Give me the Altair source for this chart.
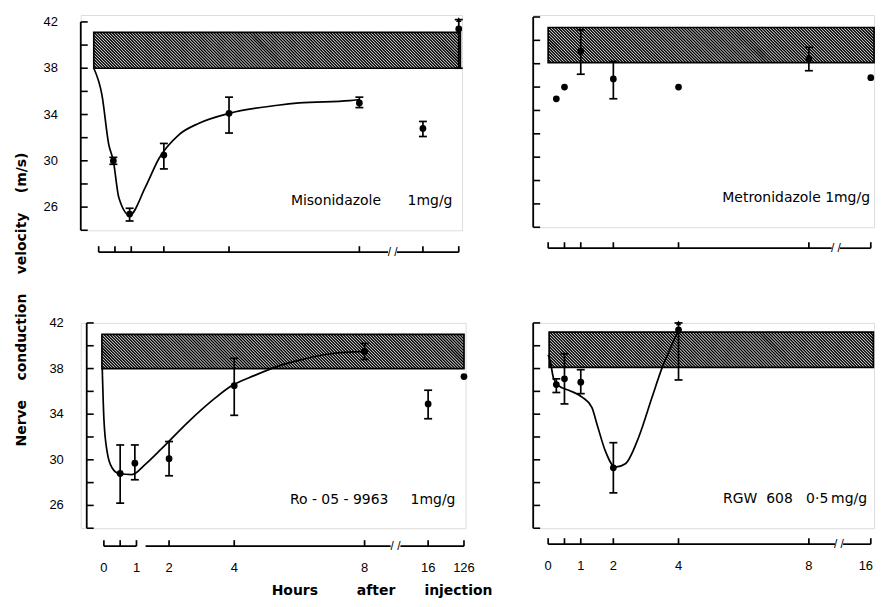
import altair as alt
import pandas as pd

FONT_TICK = "Liberation Sans"
FONT_TEXT = "DejaVu Sans"
SX = 32.7  # pixels per hour on the linear part of the axis

# position of the hours beyond the axis break
BROKEN_LEFT = {16: 9.95, 126: 11.05}
BROKEN_RIGHT = {16: 9.9}

Y_TICKS = list(range(24, 43, 2))
Y_LABELS = [26, 30, 34, 38, 42]

# ---------------- Misonidazole 1mg/g (top left) ----------------
MIS_H = [0.45, 0.95, 2, 4, 8, 16, 126]
MIS_V = [30.0, 25.4, 30.5, 34.1, 35.0, 32.8, 41.4]
MIS_LO = [29.7, 24.8, 29.3, 32.4, 34.6, 32.1, 38.0]
MIS_HI = [30.3, 25.9, 31.5, 35.5, 35.5, 33.4, 42.2]
MIS_ARROW = [False, False, False, False, False, False, True]
MIS_CURVE_H = [-0.15, 0.1, 0.31, 0.45, 0.62, 0.95, 1.43, 1.85, 2.46, 3.08, 4.0, 5.5, 6.15, 7.7, 8.0]
MIS_CURVE_V = [38.0, 35.7, 31.4, 30.0, 26.8, 25.3, 27.7, 30.2, 32.25, 33.25, 34.1, 34.8, 35.0, 35.2, 35.3]

# ---------------- Metronidazole 1mg/g (top right) ----------------
MET_H = [0.25, 0.5, 1, 2, 4, 8, 16]
MET_V = [35.0, 36.0, 39.1, 36.7, 36.0, 38.4, 36.8]
MET_LO = [None, None, 37.1, 35.0, None, 37.4, None]
MET_HI = [None, None, 40.9, 38.2, None, 39.4, None]
MET_ARROW = [False] * 7

# ---------------- Ro-05-9963 1mg/g (bottom left) ----------------
RO_H = [0.5, 0.95, 2, 4, 8, 16, 126]
RO_V = [28.8, 29.7, 30.1, 36.5, 39.5, 34.9, 37.3]
RO_LO = [26.2, 28.25, 28.6, 33.9, 38.8, 33.6, None]
RO_HI = [31.3, 31.3, 31.6, 38.9, 40.2, 36.1, None]
RO_ARROW = [False] * 7
RO_CURVE_H = [-0.05, 0.0, 0.1, 0.25, 0.46, 0.86, 1.27, 1.78, 2.6, 3.41, 3.87, 4.63, 5.44, 5.95, 6.97, 8.0]
RO_CURVE_V = [38.0, 33.6, 30.7, 29.3, 28.8, 28.7, 29.6, 31.0, 33.35, 35.4, 36.4, 37.4, 38.3, 38.7, 39.3, 39.5]

# ---------------- RGW 608 0.5mg/g (bottom right) ----------------
RGW_H = [0.25, 0.5, 1, 2, 4]
RGW_V = [36.6, 37.1, 36.8, 29.3, 41.4]
RGW_LO = [35.9, 34.9, 35.8, 27.1, 37.0]
RGW_HI = [37.1, 39.3, 37.9, 31.5, 42.0]
RGW_ARROW = [False, False, False, False, True]
RGW_CURVE_H = [0.0, 0.06, 0.16, 0.32, 0.63, 1.04, 1.34, 1.5, 1.75, 2.06, 2.37, 2.78, 3.19, 3.5, 3.8, 4.0]
RGW_CURVE_V = [39.2, 38.7, 37.2, 36.5, 36.1, 35.5, 34.6, 33.1, 30.8, 29.35, 29.65, 32.0, 35.5, 38.1, 40.1, 41.4]

# axis ticks (hours)
LEFT_TICKS = [0, 0.5, 1, 2, 4, 8, 16, 126]
RIGHT_TICKS = [0, 0.5, 1, 2, 4, 8, 16]
LEFT_LABELS = [0, 1, 2, 4, 8, 16, 126]
RIGHT_LABELS = [0, 1, 2, 4, 8, 16]

NB = "\u00a0"


def panel(p):
    broken = p["broken"]

    def hpos(h):
        return broken.get(h, h)

    xs = alt.Scale(domain=list(p["xdom"]), nice=False, zero=False)
    ytop = p["ytop"]
    ys = alt.Scale(domain=[24, ytop], nice=False, zero=False)
    W = (p["xdom"][1] - p["xdom"][0]) * SX
    H = p["height"]
    sy = H / (ytop - 24.0)
    sp = p["spine"]

    def X(f):
        return alt.X(f, scale=xs, axis=None)

    def Y(f):
        return alt.Y(f, scale=ys, axis=None)

    layers = []

    # hatched normal range band
    bx0, bx1, by0, by1 = p["band"]
    S = (by1 - by0) * sy / SX
    k = (by1 - by0) / S
    step = 3.0 / SX
    hatch = (
        alt.Chart(alt.sequence(bx0 - S, bx1, step, as_="t"))
        .transform_calculate(
            xa=f"max(datum.t, {bx0})",
            ya=f"{by1} - (max(datum.t, {bx0}) - datum.t) * {k}",
            xb=f"min(datum.t + {S}, {bx1})",
            yb=f"{by0} + (datum.t + {S} - min(datum.t + {S}, {bx1})) * {k}",
        )
        .mark_rule(color="black", strokeWidth=1.45)
        .encode(x=X("xa:Q"), y=Y("ya:Q"), x2="xb:Q", y2="yb:Q")
    )
    layers.append(hatch)
    band_df = pd.DataFrame({"x": [bx0], "x2": [bx1], "y": [by0], "y2": [by1]})
    layers.append(
        alt.Chart(band_df)
        .mark_rect(fillOpacity=0, stroke="black", strokeWidth=1.7)
        .encode(x=X("x:Q"), x2="x2:Q", y=Y("y:Q"), y2="y2:Q")
    )

    # smooth curve
    if p.get("curve_h"):
        cdf = pd.DataFrame({"h": p["curve_h"], "v": p["curve_v"]})
        layers.append(
            alt.Chart(cdf)
            .mark_line(color="black", strokeWidth=1.7, interpolate="monotone")
            .encode(x=X("h:Q"), y=Y("v:Q"))
        )

    pts = pd.DataFrame(
        {
            "h": p["hours"],
            "v": p["values"],
            "lo": p["lo"],
            "hi": p["hi"],
            "arrow": p["arrow"],
        }
    )
    pts["pos"] = [hpos(h) for h in pts["h"]]
    err = pts.dropna(subset=["lo", "hi"])
    layers.append(
        alt.Chart(err)
        .mark_rule(color="black", strokeWidth=1.7)
        .encode(x=X("pos:Q"), y=Y("lo:Q"), y2="hi:Q")
    )
    caps = pd.concat(
        [
            pd.DataFrame({"pos": err["pos"], "c": err["lo"]}),
            pd.DataFrame({"pos": err["pos"], "c": err["hi"]}),
        ]
    )
    layers.append(
        alt.Chart(caps)
        .mark_tick(orient="horizontal", color="black", size=8, thickness=1.7, opacity=1)
        .encode(x=X("pos:Q"), y=Y("c:Q"))
    )
    arrows = pts[pts["arrow"]]
    if len(arrows):
        layers.append(
            alt.Chart(arrows)
            .mark_point(shape="triangle-up", filled=True, size=30, color="black", opacity=1)
            .encode(x=X("pos:Q"), y=Y("hi:Q"))
        )

    layers.append(
        alt.Chart(pts)
        .mark_circle(size=46, color="black", opacity=1)
        .encode(x=X("pos:Q"), y=Y("v:Q"))
    )

    # y axis: spine, inward ticks, labels
    layers.append(
        alt.Chart(pd.DataFrame({"a": [24], "b": [42]}))
        .mark_rule(color="black", strokeWidth=1.8)
        .encode(x=alt.value(sp), y=Y("a:Q"), y2="b:Q")
    )
    layers.append(
        alt.Chart(pd.DataFrame({"y": Y_TICKS}))
        .mark_rule(color="black", strokeWidth=1.6)
        .encode(y=Y("y:Q"), x=alt.value(sp), x2=alt.value(sp + 7))
    )
    if p["ylabels"]:
        layers.append(
            alt.Chart(pd.DataFrame({"y": Y_LABELS, "lab": [str(v) for v in Y_LABELS]}))
            .mark_text(font=FONT_TICK, fontSize=13, color="black", align="right", baseline="middle")
            .encode(y=Y("y:Q"), x=alt.value(sp - 23), text="lab:N")
        )

    # detached, broken x axis
    ay = H + p["axis_dy"]
    seg = pd.DataFrame(p["segs"], columns=["a", "b"])
    layers.append(
        alt.Chart(seg)
        .mark_rule(color="black", strokeWidth=1.7)
        .encode(x=X("a:Q"), x2="b:Q", y=alt.value(ay))
    )
    tdf = pd.DataFrame({"p": [hpos(h) for h in p["ticks"]]})
    layers.append(
        alt.Chart(tdf)
        .mark_rule(color="black", strokeWidth=1.7)
        .encode(x=X("p:Q"), y=alt.value(ay), y2=alt.value(ay - 6))
    )
    bdf = pd.DataFrame({"p": p["breaks"]})
    layers.append(
        alt.Chart(bdf)
        .mark_text(text="/" + NB + "/", font=FONT_TICK, fontSize=12, color="black", baseline="middle")
        .encode(x=X("p:Q"), y=alt.value(ay))
    )
    labs = list(p["labels"])
    if labs:
        edge = labs[-1] if p.get("edge_label") else None
        inner = [h for h in labs if h != edge]
        ldf = pd.DataFrame({"p": [hpos(h) for h in inner], "lab": [str(h) for h in inner]})
        layers.append(
            alt.Chart(ldf)
            .mark_text(font=FONT_TICK, fontSize=13, color="black", baseline="middle")
            .encode(x=X("p:Q"), y=alt.value(H + p["label_dy"]), text="lab:N")
        )
        if edge is not None:
            # last label sits against the page edge
            layers.append(
                alt.Chart(pd.DataFrame({"lab": [str(edge)]}))
                .mark_text(font=FONT_TICK, fontSize=13, color="black", baseline="middle", align="right")
                .encode(x=alt.value(W - 1), y=alt.value(H + p["label_dy"]), text="lab:N")
            )

    # drug annotation
    layers.append(
        alt.Chart(pd.DataFrame({"t": [p["note"]]}))
        .mark_text(font=FONT_TEXT, fontSize=14, color="black", align="right", baseline="middle")
        .encode(x=alt.value(p["note_x"]), y=alt.value(p["note_y"]), text="t:N")
    )

    return alt.layer(*layers).properties(width=W, height=H)


TL = panel(
    dict(
        hours=MIS_H, values=MIS_V, lo=MIS_LO, hi=MIS_HI, arrow=MIS_ARROW,
        curve_h=MIS_CURVE_H, curve_v=MIS_CURVE_V, broken=BROKEN_LEFT,
        band=(-0.15, 11.1, 38.0, 41.1),
        segs=[(0, 8.88), (9.15, 11.05)], breaks=[9.02],
        ticks=LEFT_TICKS, labels=[],
        xdom=(-0.55, 11.15), ytop=42.6, height=216, spine=0, axis_dy=22, label_dy=40,
        ylabels=True,
        note="Misonidazole" + NB * 6 + "1mg/g", note_x=373, note_y=187,
    )
)
TR = panel(
    dict(
        hours=MET_H, values=MET_V, lo=MET_LO, hi=MET_HI, arrow=MET_ARROW,
        curve_h=None, curve_v=None, broken=BROKEN_RIGHT,
        band=(0.0, 10.0, 38.1, 41.1),
        segs=[(0, 8.7), (8.95, 9.9)], breaks=[8.83],
        ticks=RIGHT_TICKS, labels=[],
        xdom=(-0.46, 10.0), ytop=42.17, height=213, spine=0, axis_dy=21, label_dy=40,
        ylabels=False,
        note="Metronidazole" + NB + "1mg/g", note_x=338, note_y=184,
    )
)
BL = panel(
    dict(
        hours=RO_H, values=RO_V, lo=RO_LO, hi=RO_HI, arrow=RO_ARROW,
        curve_h=RO_CURVE_H, curve_v=RO_CURVE_V, broken=BROKEN_LEFT,
        band=(-0.06, 11.05, 38.0, 41.0),
        segs=[(0, 1.0), (1.28, 8.8), (9.1, 11.05)], breaks=[8.95],
        ticks=LEFT_TICKS, labels=LEFT_LABELS,
        xdom=(-0.71, 11.1), ytop=42.0, height=206, spine=6, axis_dy=18, label_dy=40,
        ylabels=True,
        note="Ro" + NB + "-" + NB + "05" + NB + "-" + NB + "9963" + NB * 5 + "1mg/g",
        note_x=376, note_y=178,
    )
)
BR = panel(
    dict(
        hours=RGW_H, values=RGW_V, lo=RGW_LO, hi=RGW_HI, arrow=RGW_ARROW,
        curve_h=RGW_CURVE_H, curve_v=RGW_CURVE_V, broken=BROKEN_RIGHT,
        band=(0.03, 9.98, 38.1, 41.2),
        segs=[(0, 8.8), (9.05, 9.9)], breaks=[8.92],
        ticks=RIGHT_TICKS, labels=RIGHT_LABELS, edge_label=True,
        xdom=(-0.46, 10.0), ytop=42.0, height=206, spine=0, axis_dy=16, label_dy=38,
        ylabels=False,
        note="RGW" + NB * 2 + "608" + NB * 3 + "0\u00b75\u2009mg/g", note_x=335, note_y=177,
    )
)

row1 = alt.hconcat(TL, TR, spacing=68)
row2 = alt.hconcat(BL, BR, spacing=56).properties(
    title=alt.TitleParams(
        text="Hours" + NB * 8 + "after" + NB * 6 + "injection",
        orient="bottom",
        anchor="middle",
        dx=-80,
        offset=9,
        font=FONT_TEXT,
        fontSize=14,
        fontWeight="bold",
        color="black",
    )
)

chart = (
    alt.vconcat(row1, row2, spacing=57)
    .properties(
        title=alt.TitleParams(
            text="Nerve" + NB * 4 + "conduction" + NB * 4 + "velocity" + NB * 4 + "(m/s)",
            orient="left",
            anchor="middle",
            offset=14,
            dx=7,
            font=FONT_TEXT,
            fontSize=14,
            fontWeight="bold",
            color="black",
        ),
        padding={"left": 7, "top": 5, "right": 0, "bottom": 0},
    )
    .configure_view(strokeWidth=0)
    .configure(background="white")
)

chart.save("out.html", embed_options={"renderer": "svg", "actions": False})
